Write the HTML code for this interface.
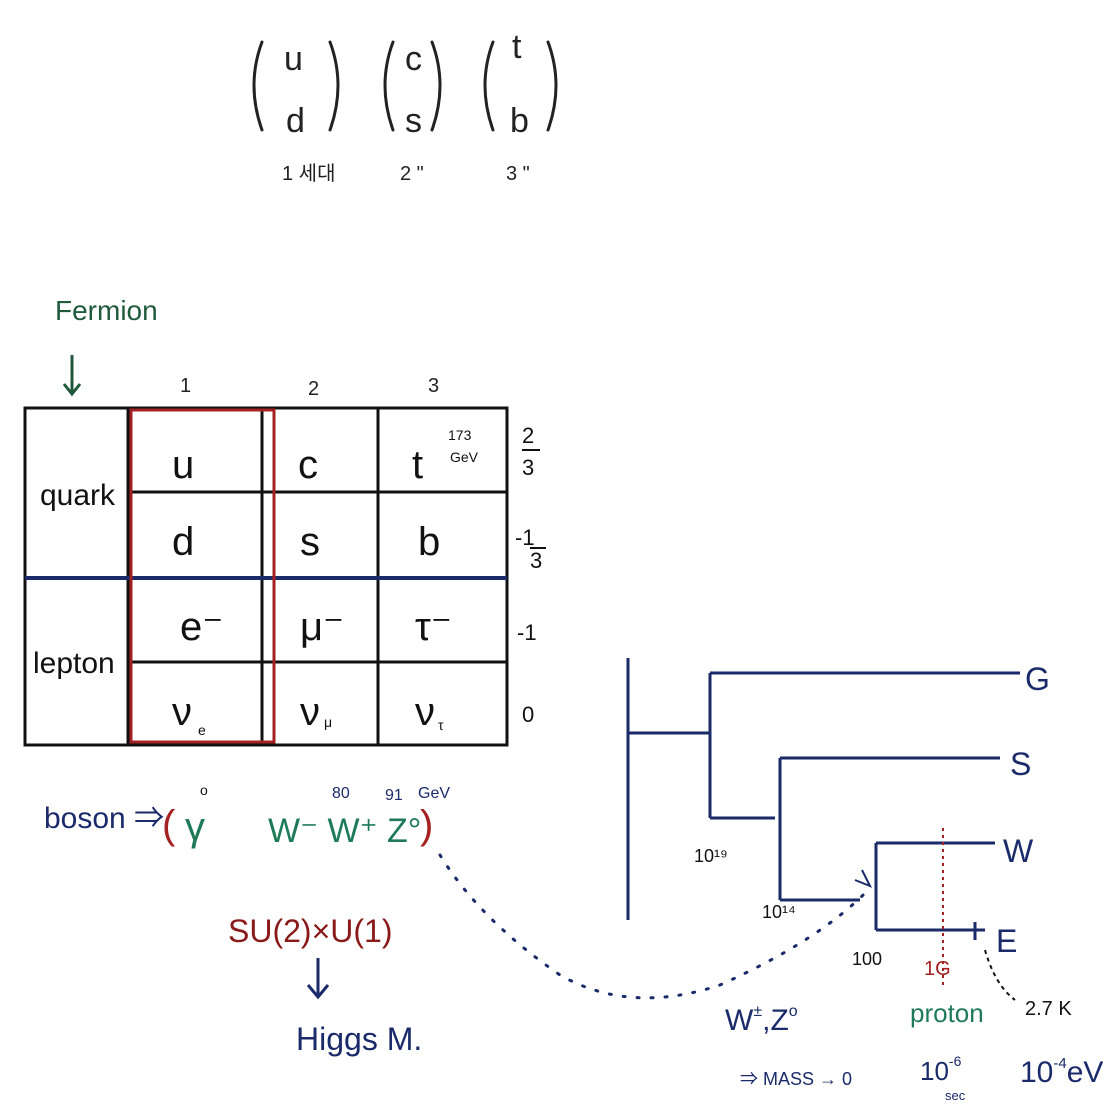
<!DOCTYPE html>
<html><head><meta charset="utf-8"><style>
html,body{margin:0;padding:0;background:#fff;}
svg{display:block;}
text{font-family:"Liberation Sans","Noto Sans CJK KR",sans-serif;}
</style></head><body>
<svg width="1112" height="1117" viewBox="0 0 1112 1117" xmlns="http://www.w3.org/2000/svg">
<!-- top matrices -->
<g fill="none" stroke="#222" stroke-width="3" stroke-linecap="round">
<path d="M262 42 Q246 85 262 130"/><path d="M330 42 Q346 85 330 130"/>
<path d="M393 42 Q377 85 393 130"/><path d="M432 42 Q448 85 432 130"/>
<path d="M493 42 Q477 85 493 130"/><path d="M548 42 Q564 85 548 130"/>
</g>
<g fill="#222" font-size="34">
<text x="284" y="70">u</text><text x="286" y="132">d</text>
<text x="405" y="70">c</text><text x="405" y="132">s</text>
<text x="512" y="58">t</text><text x="510" y="132">b</text>
</g>
<g fill="#222" font-size="20">
<text x="282" y="180">1 세대</text><text x="400" y="180">2 "</text><text x="506" y="180">3 "</text>
</g>
<!-- Fermion -->
<text x="55" y="320" font-size="28" fill="#1f5a3a">Fermion</text>
<path d="M72 355 L72 392 M64 384 L72 394 L80 384" stroke="#1f5a3a" stroke-width="3" fill="none"/>
<g font-size="20" fill="#222"><text x="180" y="392">1</text><text x="308" y="395">2</text><text x="428" y="392">3</text></g>
<!-- table -->
<g stroke="#111" stroke-width="3" fill="none">
<rect x="25" y="408" width="482" height="337"/>
<line x1="128" y1="408" x2="128" y2="745"/>
<line x1="262" y1="408" x2="262" y2="745"/>
<line x1="378" y1="408" x2="378" y2="745"/>
<line x1="128" y1="492" x2="507" y2="492"/>
<line x1="128" y1="662" x2="507" y2="662"/>
</g>
<line x1="25" y1="578" x2="507" y2="578" stroke="#1a2a6a" stroke-width="4"/>
<rect x="131" y="410" width="143" height="332" fill="none" stroke="#a52020" stroke-width="3"/>
<g font-size="30" fill="#111">
<text x="40" y="505">quark</text><text x="33" y="673">lepton</text>
</g>
<g font-size="40" fill="#111">
<text x="172" y="478">u</text><text x="298" y="478">c</text><text x="412" y="478">t</text>
<text x="172" y="555">d</text><text x="300" y="555">s</text><text x="418" y="555">b</text>
<text x="180" y="640">e⁻</text><text x="300" y="640">μ⁻</text><text x="415" y="640">τ⁻</text>
<text x="172" y="725">ν</text><text x="300" y="725">ν</text><text x="415" y="725">ν</text>
</g>
<g font-size="14" fill="#111"><text x="198" y="735">e</text><text x="324" y="727">μ</text><text x="438" y="730">τ</text>
<text x="448" y="440">173</text><text x="450" y="462">GeV</text></g>
<g font-size="22" fill="#111">
<text x="522" y="443">2</text><line x1="522" y1="450" x2="540" y2="450" stroke="#111" stroke-width="2"/><text x="522" y="475">3</text>
<text x="515" y="545">-1</text><line x1="530" y1="548" x2="546" y2="548" stroke="#111" stroke-width="2"/><text x="530" y="568">3</text>
<text x="517" y="640">-1</text><text x="522" y="722">0</text>
</g>
<!-- boson -->
<text x="44" y="828" font-size="30" fill="#1a2a6a">boson ⇒</text>
<text x="162" y="838" font-size="40" fill="#a52020">(</text>
<text x="185" y="840" font-size="40" fill="#1f7a5a">γ</text>
<text x="200" y="795" font-size="14" fill="#111">o</text>
<text x="268" y="842" font-size="34" fill="#1f7a5a">W⁻ W⁺ Z°</text>
<text x="420" y="838" font-size="40" fill="#a52020">)</text>
<g font-size="16" fill="#1a2a6a"><text x="332" y="798">80</text><text x="385" y="800">91</text><text x="418" y="798">GeV</text></g>
<text x="228" y="942" font-size="32" fill="#8a1a1a">SU(2)×U(1)</text>
<path d="M318 958 L318 995 M308 985 L318 997 L328 985" stroke="#1a2a6a" stroke-width="3" fill="none"/>
<text x="296" y="1050" font-size="32" fill="#1a2a6a">Higgs M.</text>
<!-- dotted curve -->
<path d="M440 855 Q480 920 560 975 Q630 1015 720 985 Q820 940 868 890" stroke="#1a2a6a" stroke-width="3" stroke-dasharray="2 12" stroke-linecap="round" fill="none"/>
<path d="M855 880 L870 886 L862 870" stroke="#1a2a6a" stroke-width="2" fill="none"/>
<!-- tree -->
<g stroke="#1a2a6a" stroke-width="3" fill="none">
<line x1="628" y1="658" x2="628" y2="920"/>
<line x1="628" y1="733" x2="710" y2="733"/>
<line x1="710" y1="673" x2="710" y2="818"/>
<line x1="710" y1="673" x2="1020" y2="673"/>
<line x1="710" y1="818" x2="775" y2="818"/>
<line x1="780" y1="758" x2="780" y2="900"/>
<line x1="780" y1="758" x2="1000" y2="758"/>
<line x1="780" y1="900" x2="860" y2="900"/>
<line x1="876" y1="843" x2="876" y2="930"/>
<line x1="876" y1="843" x2="995" y2="843"/>
<line x1="876" y1="930" x2="985" y2="930"/>
<line x1="975" y1="922" x2="975" y2="940"/>
</g>
<line x1="943" y1="828" x2="943" y2="985" stroke="#a52020" stroke-width="2" stroke-dasharray="3 4"/>
<g font-size="32" fill="#1a2a6a"><text x="1025" y="690">G</text><text x="1010" y="775">S</text><text x="1003" y="862">W</text><text x="996" y="952">E</text></g>
<g font-size="18" fill="#111"><text x="694" y="862">10¹⁹</text><text x="762" y="918">10¹⁴</text><text x="852" y="965">100</text></g>
<text x="924" y="975" font-size="20" fill="#a52020">1G</text>
<path d="M985 950 Q995 985 1015 1000" stroke="#111" stroke-width="2" stroke-dasharray="4 4" fill="none"/>
<text x="1025" y="1015" font-size="20" fill="#111">2.7 K</text>
<text x="910" y="1022" font-size="26" fill="#1f7a5a">proton</text>
<text x="725" y="1030" font-size="30" fill="#1a2a6a">W<tspan font-size="16" dy="-14">±</tspan><tspan dy="14">,Z</tspan><tspan font-size="16" dy="-14">o</tspan></text>
<text x="740" y="1085" font-size="18" fill="#1a2a6a">⇒ MASS → 0</text>
<text x="920" y="1080" font-size="26" fill="#1a2a6a">10<tspan font-size="14" dy="-14">-6</tspan></text>
<text x="945" y="1100" font-size="13" fill="#1a2a6a">sec</text>
<text x="1020" y="1082" font-size="30" fill="#1a2a6a">10<tspan font-size="15" dy="-14">-4</tspan><tspan dy="14">eV</tspan></text>
</svg>
</body></html>
